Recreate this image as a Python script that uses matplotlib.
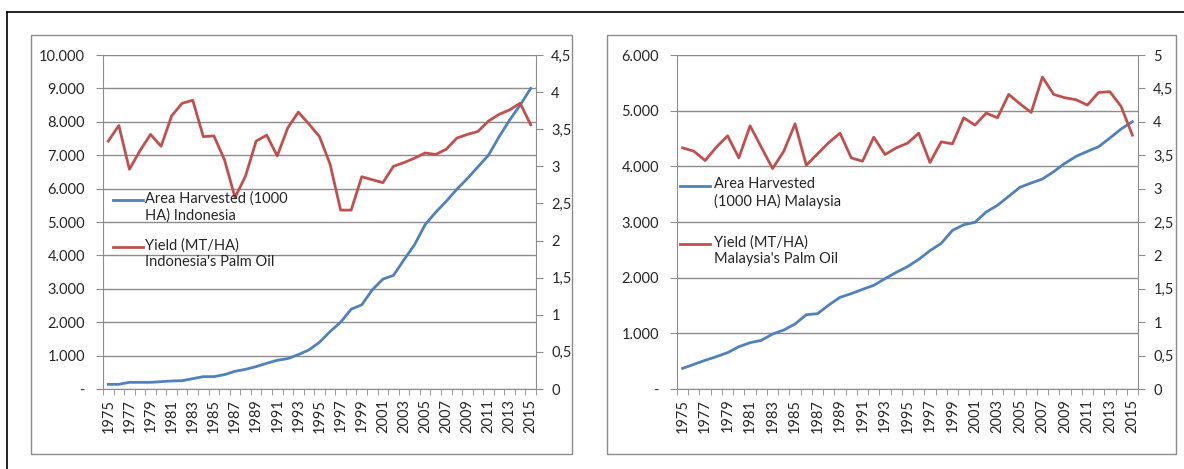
import matplotlib.pyplot as plt
import numpy as np
from matplotlib.lines import Line2D
from matplotlib.patches import Rectangle

plt.rcParams["font.family"] = ["Lato", "DejaVu Sans"]

W, H = 1184, 469

years = list(range(1975, 2016))

# Indonesia (area in 1000 HA, yield in MT/HA)
idn_area = [140, 140, 200, 200, 200, 220, 240, 250, 310, 370, 370, 430, 530, 590, 670,
            770, 860, 910, 1030, 1170, 1400, 1720, 2000, 2390, 2520, 2970, 3290, 3400,
            3870, 4320, 4920, 5290, 5620, 5980, 6300, 6650, 7000, 7550, 8050, 8500, 9000]
idn_yield = [3.34, 3.55, 2.96, 3.21, 3.43, 3.27, 3.68, 3.85, 3.89, 3.40, 3.41, 3.09, 2.58,
             2.87, 3.34, 3.42, 3.14, 3.52, 3.73, 3.57, 3.40, 3.03, 2.41, 2.41, 2.86, 2.82,
             2.78, 3.00, 3.05, 3.11, 3.18, 3.16, 3.23, 3.38, 3.43, 3.47, 3.61, 3.70, 3.76,
             3.85, 3.56]

# Malaysia
mys_area = [371, 443, 515, 581, 653, 760, 832, 874, 988, 1060, 1168, 1335, 1353, 1509,
            1647, 1713, 1790, 1862, 1982, 2096, 2198, 2329, 2485, 2617, 2850, 2950, 2995,
            3180, 3300, 3461, 3623, 3701, 3772, 3904, 4054, 4180, 4269, 4353, 4509, 4671,
            4802]
mys_yield = [3.61, 3.56, 3.42, 3.62, 3.79, 3.46, 3.94, 3.62, 3.30, 3.56, 3.97, 3.35, 3.52,
             3.69, 3.83, 3.46, 3.41, 3.77, 3.51, 3.61, 3.68, 3.83, 3.39, 3.70, 3.67, 4.06,
             3.95, 4.13, 4.06, 4.41, 4.27, 4.14, 4.67, 4.41, 4.36, 4.33, 4.25, 4.44, 4.45,
             4.23, 3.80]

BLUE = "#4F81BD"
RED = "#C0504D"
GRID = "#8C8C8C"
TXT = "#262626"


def fx(px):
    return px / W


def fy(py):
    return 1 - py / H


def fmt_left(v):
    if v == 0:
        return "-"
    return f"{int(v):,}".replace(",", ".")


def fmt_right(v):
    s = f"{v:g}"
    return s.replace(".", ",")


def draw_panel(fig, box, plot, area, yld, lmax, rmax, rstep, labels, leg):
    bx0, by0, bx1, by1 = box
    fig.add_artist(Rectangle((fx(bx0), fy(by1)), fx(bx1 - bx0), (by1 - by0) / H,
                             transform=fig.transFigure, fill=False, ec=GRID, lw=1))
    px0, py0, px1, py1 = plot
    ax = fig.add_axes([fx(px0), fy(py1), fx(px1 - px0), (py1 - py0) / H])
    x = np.arange(len(years))

    ax.set_xlim(-0.5, len(years) - 0.5)
    ax.set_ylim(0, lmax)
    ax.set_yticks(np.arange(0, lmax + 1, 1000))
    ax.set_yticklabels([fmt_left(v) for v in np.arange(0, lmax + 1, 1000)])
    ax.yaxis.grid(True, color=GRID, lw=1)
    ax.set_axisbelow(True)

    ax.set_xticks(x[::2])
    ax.set_xticklabels([str(y) for y in years[::2]], rotation=90)
    ax.set_xticks(np.arange(-0.5, len(years), 1), minor=True)
    ax.tick_params(axis="x", which="major", length=0, pad=7, labelsize=10.5, labelcolor=TXT)
    ax.tick_params(axis="x", which="minor", length=4, color=GRID, direction="out")
    ax.tick_params(axis="y", length=5, color=GRID, pad=8, labelsize=10.5, labelcolor=TXT)

    for s in ["top", "right"]:
        ax.spines[s].set_visible(False)
    for s in ["left", "bottom"]:
        ax.spines[s].set_color(GRID)

    ax2 = ax.twinx()
    ax2.set_ylim(0, rmax)
    rt = np.arange(0, rmax + 0.001, rstep)
    ax2.set_yticks(rt)
    ax2.set_yticklabels([fmt_right(v) for v in rt])
    ax2.tick_params(axis="y", length=5, color=GRID, pad=6, labelsize=10.5, labelcolor=TXT)
    for s in ["top", "left", "bottom"]:
        ax2.spines[s].set_visible(False)
    ax2.spines["right"].set_color(GRID)

    ax.plot(x, area, color=BLUE, lw=2, solid_joinstyle="round", zorder=3)
    ax2.plot(x, yld, color=RED, lw=2, solid_joinstyle="round", zorder=3)

    # legend drawn by hand so the sample sits on the first text line
    hx0, hx1, tx, ya, yb = leg
    for yy, col, lab in [(ya, BLUE, labels[0]), (yb, RED, labels[1])]:
        fig.add_artist(Line2D([fx(hx0), fx(hx1)], [fy(yy), fy(yy)], color=col, lw=2,
                              transform=fig.transFigure))
        fig.text(fx(tx), fy(yy - 9), lab, ha="left", va="top", fontsize=10.5,
                 color=TXT, linespacing=1.25)


fig = plt.figure(figsize=(W / 100, H / 100), dpi=100)

# outer frame (top and left edges)
fig.add_artist(Line2D([fx(7), 1], [fy(12), fy(12)], color="black", lw=1.2,
                      transform=fig.transFigure))
fig.add_artist(Line2D([fx(7), fx(7)], [fy(12), 0], color="black", lw=1.2,
                      transform=fig.transFigure))

draw_panel(fig, (31, 35, 572, 454), (103, 55, 536, 389), idn_area, idn_yield,
           10000, 4.5, 0.5,
           ["Area Harvested (1000\nHA) Indonesia", "Yield (MT/HA)\nIndonesia's Palm Oil"],
           (113, 143, 145, 200, 247))
draw_panel(fig, (607, 35, 1176, 454), (677, 55, 1138, 389), mys_area, mys_yield,
           6000, 5, 0.5,
           ["Area Harvested\n(1000 HA) Malaysia", "Yield (MT/HA)\nMalaysia's Palm Oil"],
           (680, 710, 714, 186, 244))

fig.savefig("out.png", dpi=100)
